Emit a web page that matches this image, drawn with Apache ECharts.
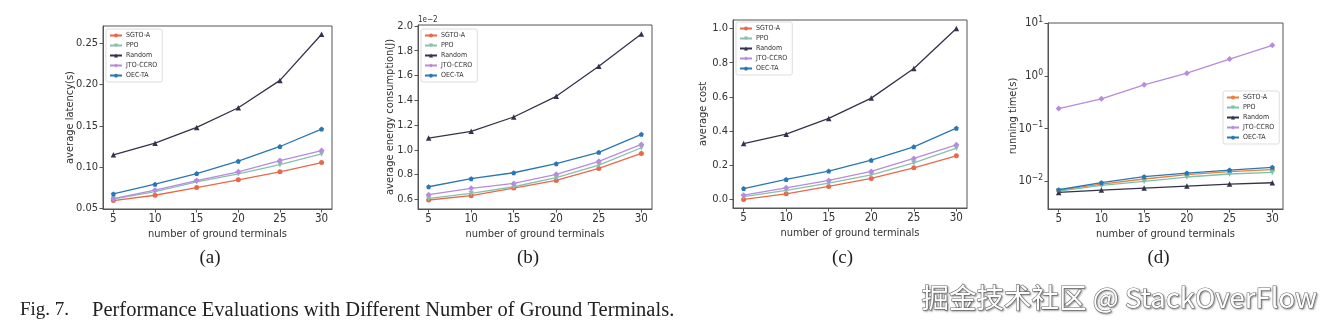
<!DOCTYPE html>
<html>
<head>
<meta charset="utf-8">
<script src="https://cdn.jsdelivr.net/npm/echarts@6/dist/echarts.min.js"></script>
<style>
html,body{margin:0;padding:0;background:#fff;}
#c{width:1327px;height:329px;}
</style>
</head>
<body>
<div id="c"></div>
<script>
// ---------- data ----------
const terminals = [5, 10, 15, 20, 25, 30];
const methods = ['SGTO-A', 'PPO', 'Random', 'JTO-CCRO', 'OEC-TA'];

// (a) average latency (s)
const latencySGTO = [0.0597, 0.0661, 0.0754, 0.0847, 0.0944, 0.1056];
const latencyPPO = [0.0613, 0.0706, 0.0823, 0.0920, 0.1030, 0.1160];
const latencyRandom = [0.1149, 0.1290, 0.1480, 0.1718, 0.2048, 0.2605];
const latencyJTO = [0.0620, 0.0722, 0.0839, 0.0944, 0.1080, 0.1200];
const latencyOEC = [0.0677, 0.0794, 0.0923, 0.1073, 0.1250, 0.1460];

// (b) average energy consumption (J), ×1e-2
const energySGTO = [0.595, 0.630, 0.691, 0.753, 0.850, 0.971];
const energyPPO = [0.608, 0.648, 0.702, 0.775, 0.877, 1.017];
const energyRandom = [1.095, 1.149, 1.265, 1.432, 1.674, 1.935];
const energyJTO = [0.638, 0.689, 0.729, 0.802, 0.907, 1.044];
const energyOEC = [0.702, 0.767, 0.815, 0.888, 0.980, 1.125];

// (c) average cost
const costSGTO = [0.000, 0.033, 0.076, 0.123, 0.185, 0.255];
const costPPO = [0.016, 0.053, 0.096, 0.144, 0.214, 0.300];
const costRandom = [0.327, 0.382, 0.474, 0.593, 0.766, 1.000];
const costJTO = [0.025, 0.068, 0.111, 0.164, 0.240, 0.320];
const costOEC = [0.064, 0.117, 0.166, 0.230, 0.308, 0.417];

// (d) running time (s), log scale
const timeSGTO = [0.00675, 0.0089, 0.0111, 0.0134, 0.0153, 0.0167];
const timePPO = [0.00655, 0.0084, 0.0100, 0.0121, 0.0138, 0.0148];
const timeRandom = [0.00618, 0.00685, 0.00747, 0.00815, 0.0089, 0.00943];
const timeJTO = [0.240, 0.366, 0.674, 1.12, 2.07, 3.77];
const timeOEC = [0.00695, 0.00944, 0.01227, 0.0144, 0.0164, 0.01845];

const xTicks = [5, 10, 15, 20, 25, 30];
const yTicksA = [0.05, 0.10, 0.15, 0.20, 0.25];
const yTicksB = [0.6, 0.8, 1.0, 1.2, 1.4, 1.6, 1.8, 2.0];
const yTicksC = [0.0, 0.2, 0.4, 0.6, 0.8, 1.0];
const yTicksD = [0.01, 0.1, 1, 10];

const yNames = ['average latency(s)', 'average energy consumption(J)', 'average cost', 'running time(s)'];
const xName = 'number of ground terminals';
const subCaptions = ['(a)', '(b)', '(c)', '(d)'];
const figCaptionNum = 'Fig. 7.';
const figCaption = 'Performance Evaluations with Different Number of Ground Terminals.';
const watermark = '掘金技术社区 @ StackOverFlow';

// ---------- styling ----------
const colors = {
  'SGTO-A': '#e8694a',
  'PPO': '#86c1ad',
  'Random': '#33334d',
  'JTO-CCRO': '#b68be0',
  'OEC-TA': '#2a77b4'
};
const colorsD = Object.assign({}, colors, {'SGTO-A': '#e8803e', 'PPO': '#7cc3a6'});
const symbols = {
  'SGTO-A': 'circle',
  'PPO': 'path://M0,0 L10,0 L5,9 Z',
  'Random': 'path://M5,0 L10,9 L0,9 Z',
  'JTO-CCRO': 'diamond',
  'OEC-TA': 'path://M5,0 L10,3.8 L8.1,10 L1.9,10 L0,3.8 Z'
};
const symSize = {'SGTO-A': 5, 'PPO': 5.5, 'Random': 5.5, 'JTO-CCRO': 6, 'OEC-TA': 5};

const panels = [
  {left: 103, right: 332, top: 26, bottom: 209, ymin: 0.0495, ymax: 0.2705, ticks: yTicksA, fmt: v => v.toFixed(2), nameGap: 33,
   data: [latencySGTO, latencyPPO, latencyRandom, latencyJTO, latencyOEC], legend: {left: 106, top: 29}},
  {left: 418, right: 652, top: 25, bottom: 209, ymin: 0.5225, ymax: 2.0075, ticks: yTicksB, fmt: v => v.toFixed(1), nameGap: 28,
   data: [energySGTO, energyPPO, energyRandom, energyJTO, energyOEC], legend: {left: 421, top: 29}},
  {left: 733, right: 967, top: 20, bottom: 208, ymin: -0.05, ymax: 1.05, ticks: yTicksC, fmt: v => v.toFixed(1), nameGap: 30,
   data: [costSGTO, costPPO, costRandom, costJTO, costOEC], legend: {left: 736, top: 22}},
  {left: 1048, right: 1283, top: 23, bottom: 209, ymin: 0.003, ymax: 10, ticks: yTicksD, log: true, nameGap: 35,
   data: [timeSGTO, timePPO, timeRandom, timeJTO, timeOEC], legend: {left: 1223, top: 91}}
];

const W = 1327, H = 329;
const font = '"DejaVu Sans Condensed", "DejaVu Sans"';
const grid = [], xAxis = [], yAxis = [], series = [], legend = [], graphic = [];

panels.forEach((p, i) => {
  grid.push({left: p.left, top: p.top, width: p.right - p.left, height: p.bottom - p.top,
    show: true, borderColor: '#555', borderWidth: 1, backgroundColor: 'transparent', containLabel: false});
  xAxis.push({
    type: 'value', gridIndex: i, min: 3.75, max: 31.25,
    name: xName, nameLocation: 'middle', nameGap: 20, nameMoveOverlap: false,
    nameTextStyle: {fontFamily: font, fontSize: 11, color: '#333'},
    axisLine: {show: true, onZero: false, lineStyle: {color: '#555', width: 1}},
    axisTick: {show: true, inside: false, length: 3.5, lineStyle: {color: '#555'}, customValues: xTicks},
    axisLabel: {fontFamily: font, fontSize: 11.5, color: '#333', margin: 4, customValues: xTicks},
    splitLine: {show: false}
  });
  const ya = {
    gridIndex: i, min: p.ymin, max: p.ymax,
    name: yNames[i], nameLocation: 'middle', nameGap: p.nameGap, nameRotate: 90, nameMoveOverlap: false,
    nameTextStyle: {fontFamily: font, fontSize: 11, color: '#333', verticalAlign: 'middle'},
    axisLine: {show: true, onZero: false, lineStyle: {color: '#555', width: 1}},
    axisTick: {show: true, inside: false, length: 3.5, lineStyle: {color: '#555'}, customValues: p.ticks},
    axisLabel: {fontFamily: font, fontSize: 11, color: '#333', margin: 5, customValues: p.ticks},
    splitLine: {show: false}
  };
  if (p.log) {
    ya.type = 'log';
    ya.logBase = 10;
    ya.axisLabel.formatter = v => {
      const e = Math.round(Math.log10(v));
      return '10{s|' + (e < 0 ? '−' : '') + Math.abs(e) + '}';
    };
    ya.axisLabel.fontSize = 11.5;
    ya.axisLabel.rich = {s: {fontFamily: font, fontSize: 8.5, color: '#333', verticalAlign: 'top', padding: [0, 0, 7, 0]}};
  } else {
    ya.type = 'value';
    ya.axisLabel.formatter = p.fmt;
  }
  yAxis.push(ya);
  const cmap = i === 3 ? colorsD : colors;
  methods.forEach((m, k) => {
    series.push({
      name: m, type: 'line', xAxisIndex: i, yAxisIndex: i,
      data: terminals.map((t, j) => [t, p.data[k][j]]),
      symbol: symbols[m], symbolSize: symSize[m], showSymbol: true,
      lineStyle: {color: cmap[m], width: 1.3},
      itemStyle: {color: cmap[m]},
      z: 2 + k, animation: false
    });
  });
  legend.push({
    left: p.legend.left, top: p.legend.top, orient: 'vertical',
    data: methods.map(m => ({name: m, itemStyle: {color: cmap[m]}, lineStyle: {color: cmap[m]}})),
    itemWidth: 12, itemHeight: 5, itemGap: 3,
    textStyle: {fontFamily: font, fontSize: 7, color: '#333', padding: [0, 0, 0, -1]},
    backgroundColor: 'rgba(255,255,255,0.85)', borderColor: '#ddd', borderWidth: 1, borderRadius: 2,
    padding: [3, 5, 3, 3], selectedMode: false
  });
  graphic.push({type: 'text', left: (p.left + p.right) / 2 - 18, top: 249,
    style: {text: subCaptions[i], font: '19px "Liberation Serif"', fill: '#222'}});
});

graphic.push({type: 'text', left: 418, top: 16, style: {text: '1e−2', font: '8px "DejaVu Sans Condensed", "DejaVu Sans"', fill: '#333'}});
graphic.push({type: 'text', left: 20, top: 301, style: {text: figCaptionNum, font: '19px "Liberation Serif"', fill: '#222'}});
graphic.push({type: 'text', left: 92, top: 300, style: {text: figCaption, font: '20.5px "Liberation Serif"', fill: '#222'}});
graphic.push({type: 'text', left: 921, top: 283,
  style: {text: watermark, font: '27.5px "Noto Sans CJK SC"', fill: '#fff', stroke: '#777', lineWidth: 1.2,
    textShadowColor: 'rgba(0,0,0,0.35)', textShadowBlur: 2, textShadowOffsetX: 1, textShadowOffsetY: 1}});

const chart = echarts.init(document.getElementById('c'), null, {renderer: 'canvas', width: W, height: H});
chart.setOption({
  animation: false,
  backgroundColor: '#fff',
  grid, xAxis, yAxis, series, legend, graphic
});
</script>
</body>
</html>
